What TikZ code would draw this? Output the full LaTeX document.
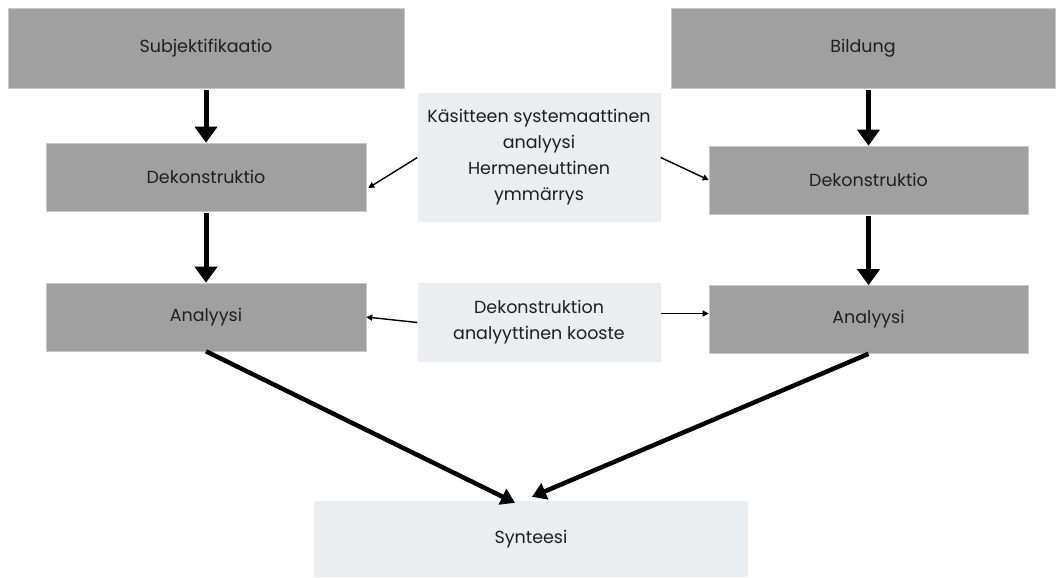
\documentclass[tikz,border=0pt]{standalone}
\usepackage{fontspec}
\setmainfont{Poppins}
\usetikzlibrary{arrows.meta,calc}
\definecolor{boxgray}{HTML}{A0A0A0}
\definecolor{boxlight}{HTML}{EBEEF1}
\definecolor{edgegray}{HTML}{C8C8C8}
\begin{document}
\begin{tikzpicture}[x=1pt,y=-1pt,
  gbox/.style={fill=boxgray,draw=edgegray,line width=0.6pt,inner sep=0pt,anchor=center,font=\fontsize{17.5}{20}\selectfont,text=black!88},
  lbox/.style={fill=boxlight,draw=none,inner sep=0pt,anchor=center,align=center,font=\fontsize{17.5}{26}\selectfont,text=black!88},
  bigarrow/.style={line width=5pt,-{Triangle[width=22pt,length=16pt]},shorten <=2pt},
  diagarrow/.style={line width=4.5pt,-{Triangle[width=17pt,length=14pt]}},
  thinarrow/.style={line width=1.4pt,-{Triangle[width=6pt,length=6pt]}}]
\useasboundingbox (0,0) rectangle (1057,578);
% grey boxes
\node[gbox,minimum width=396pt,minimum height=80pt] (subj) at (206,48) {Subjektifikaatio};
\node[gbox,minimum width=320pt,minimum height=68pt] (dekL) at (206,177) {Dekonstruktio};
\node[gbox,minimum width=320pt,minimum height=68pt] (anaL) at (206,317) {Analyysi};
\node[gbox,minimum width=384pt,minimum height=80pt] (bild) at (863,48) {Bildung};
\node[gbox,minimum width=319pt,minimum height=68pt] (dekR) at (868.5,180) {Dekonstruktio};
\node[gbox,minimum width=319pt,minimum height=68pt] (anaR) at (868.5,319.5) {Analyysi};
% light boxes
\node[lbox,minimum width=243pt,minimum height=129pt] (c1) at (539,157.5) {Käsitteen systemaattinen\\analyysi\\Hermeneuttinen\\ymmärrys};
\node[lbox,minimum width=243pt,minimum height=79pt] (c2) at (539,322.5) {Dekonstruktion\\analyyttinen kooste};
\node[lbox,minimum width=434pt,minimum height=76pt] (synt) at (531,539) {Synteesi};
% vertical arrows
\draw[bigarrow] (subj.south) -- (dekL.north);
\draw[bigarrow] (dekL.south) -- (anaL.north);
\draw[bigarrow] (dekR.north |- bild.south) -- (dekR.north);
\draw[bigarrow] (dekR.south) -- (anaR.north);
% diagonal arrows
\draw[diagarrow] (anaL.south) -- ([xshift=-16pt,yshift=-2pt]synt.north);
\draw[diagarrow] (anaR.south) -- ([xshift=1pt,yshift=4pt]synt.north);
% thin arrows
\draw[thinarrow] (c1.west) -- ([xshift=2pt,yshift=-11pt]dekL.east);
\draw[thinarrow] (c1.east) -- (dekR.west);
\draw[thinarrow] (c2.west) -- (anaL.east);
\draw[thinarrow] ([yshift=9pt]c2.east) -- ([yshift=6pt]anaR.west);
\end{tikzpicture}
\end{document}
